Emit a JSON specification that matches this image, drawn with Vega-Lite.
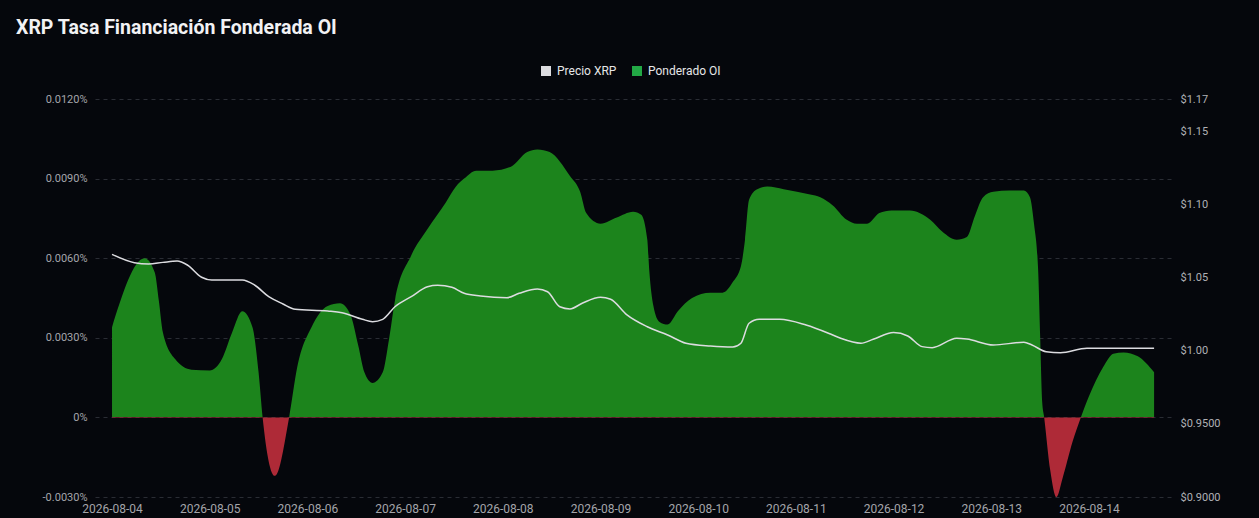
{
  "$schema": "https://vega.github.io/schema/vega-lite/v6.json",
  "width": 1077,
  "height": 398,
  "autosize": {"type": "none"},
  "padding": {"left": 95, "top": 99, "right": 87, "bottom": 21},
  "background": "#05070c",
  "title": {
    "text": "XRP Tasa Financiación Fonderada OI",
    "anchor": "start",
    "frame": "group",
    "dx": -79,
    "offset": 27,
    "font": "Roboto",
    "fontSize": 19.5,
    "fontWeight": "bold",
    "color": "#f2f2f4"
  },
  "config": {
    "view": {"stroke": null},
    "axis": {
      "domain": false,
      "ticks": false,
      "labelFont": "Roboto",
      "labelColor": "#a4a5aa",
      "labelFontSize": 11,
      "titleFont": "Roboto"
    },
    "legend": {"labelFont": "Roboto"}
  },
  "datasets": {
    "funding": [
      {"t": "2026-08-04T00:00", "rate": 0.0034},
      {"t": "2026-08-04T08:00", "rate": 0.0060},
      {"t": "2026-08-04T10:30", "rate": 0.00546},
      {"t": "2026-08-04T11:30", "rate": 0.0044},
      {"t": "2026-08-04T12:30", "rate": 0.0032},
      {"t": "2026-08-04T15:30", "rate": 0.0022},
      {"t": "2026-08-04T19:30", "rate": 0.0018},
      {"t": "2026-08-05T00:00", "rate": 0.00177},
      {"t": "2026-08-05T03:00", "rate": 0.0022},
      {"t": "2026-08-05T05:30", "rate": 0.0032},
      {"t": "2026-08-05T08:00", "rate": 0.0040},
      {"t": "2026-08-05T10:30", "rate": 0.0034},
      {"t": "2026-08-05T12:00", "rate": 0.0017},
      {"t": "2026-08-05T13:00", "rate": 0.0},
      {"t": "2026-08-05T16:00", "rate": -0.0022},
      {"t": "2026-08-05T19:30", "rate": 0.0},
      {"t": "2026-08-05T21:30", "rate": 0.0019},
      {"t": "2026-08-06T01:00", "rate": 0.0034},
      {"t": "2026-08-06T05:00", "rate": 0.0042},
      {"t": "2026-08-06T08:00", "rate": 0.0043},
      {"t": "2026-08-06T10:30", "rate": 0.0039},
      {"t": "2026-08-06T12:30", "rate": 0.0027},
      {"t": "2026-08-06T14:00", "rate": 0.0017},
      {"t": "2026-08-06T16:00", "rate": 0.0013},
      {"t": "2026-08-06T18:30", "rate": 0.0017},
      {"t": "2026-08-06T20:00", "rate": 0.0029},
      {"t": "2026-08-06T21:30", "rate": 0.0044},
      {"t": "2026-08-07T01:30", "rate": 0.0061},
      {"t": "2026-08-07T05:30", "rate": 0.0071},
      {"t": "2026-08-07T10:00", "rate": 0.0081},
      {"t": "2026-08-07T12:30", "rate": 0.0087},
      {"t": "2026-08-07T14:30", "rate": 0.0090},
      {"t": "2026-08-07T17:30", "rate": 0.0093},
      {"t": "2026-08-07T21:30", "rate": 0.0093},
      {"t": "2026-08-08T02:00", "rate": 0.00945},
      {"t": "2026-08-08T06:00", "rate": 0.0100},
      {"t": "2026-08-08T08:30", "rate": 0.0101},
      {"t": "2026-08-08T11:30", "rate": 0.0100},
      {"t": "2026-08-08T16:30", "rate": 0.0091},
      {"t": "2026-08-08T19:00", "rate": 0.0085},
      {"t": "2026-08-08T20:30", "rate": 0.0077},
      {"t": "2026-08-09T00:00", "rate": 0.0073},
      {"t": "2026-08-09T04:00", "rate": 0.00753},
      {"t": "2026-08-09T08:00", "rate": 0.00775},
      {"t": "2026-08-09T10:00", "rate": 0.00764},
      {"t": "2026-08-09T11:30", "rate": 0.0067},
      {"t": "2026-08-09T12:00", "rate": 0.0055},
      {"t": "2026-08-09T13:00", "rate": 0.0042},
      {"t": "2026-08-09T14:30", "rate": 0.0036},
      {"t": "2026-08-09T16:30", "rate": 0.0035},
      {"t": "2026-08-09T19:00", "rate": 0.0040},
      {"t": "2026-08-09T22:30", "rate": 0.0045},
      {"t": "2026-08-10T03:00", "rate": 0.0047},
      {"t": "2026-08-10T06:00", "rate": 0.0047},
      {"t": "2026-08-10T08:30", "rate": 0.0051},
      {"t": "2026-08-10T10:30", "rate": 0.0057},
      {"t": "2026-08-10T11:30", "rate": 0.0067},
      {"t": "2026-08-10T12:30", "rate": 0.0082},
      {"t": "2026-08-10T14:30", "rate": 0.0086},
      {"t": "2026-08-10T17:00", "rate": 0.0087},
      {"t": "2026-08-10T21:00", "rate": 0.0086},
      {"t": "2026-08-11T03:30", "rate": 0.0084},
      {"t": "2026-08-11T06:00", "rate": 0.0083},
      {"t": "2026-08-11T09:00", "rate": 0.0080},
      {"t": "2026-08-11T12:30", "rate": 0.00745},
      {"t": "2026-08-11T15:00", "rate": 0.0073},
      {"t": "2026-08-11T17:30", "rate": 0.0073},
      {"t": "2026-08-11T20:30", "rate": 0.0077},
      {"t": "2026-08-11T23:30", "rate": 0.0078},
      {"t": "2026-08-12T04:00", "rate": 0.0078},
      {"t": "2026-08-12T09:00", "rate": 0.00745},
      {"t": "2026-08-12T12:00", "rate": 0.0070},
      {"t": "2026-08-12T15:30", "rate": 0.0067},
      {"t": "2026-08-12T18:00", "rate": 0.0068},
      {"t": "2026-08-12T20:00", "rate": 0.0076},
      {"t": "2026-08-12T22:00", "rate": 0.0083},
      {"t": "2026-08-13T00:30", "rate": 0.0085},
      {"t": "2026-08-13T04:30", "rate": 0.00855},
      {"t": "2026-08-13T08:00", "rate": 0.00855},
      {"t": "2026-08-13T09:30", "rate": 0.0083},
      {"t": "2026-08-13T10:30", "rate": 0.0073},
      {"t": "2026-08-13T11:30", "rate": 0.0056},
      {"t": "2026-08-13T12:00", "rate": 0.0031},
      {"t": "2026-08-13T12:30", "rate": 0.0006},
      {"t": "2026-08-13T13:00", "rate": 0.0},
      {"t": "2026-08-13T14:30", "rate": -0.0020},
      {"t": "2026-08-13T16:00", "rate": -0.0030},
      {"t": "2026-08-13T17:30", "rate": -0.0023},
      {"t": "2026-08-13T20:00", "rate": -0.0009},
      {"t": "2026-08-13T22:00", "rate": 0.0},
      {"t": "2026-08-14T00:00", "rate": 0.0008},
      {"t": "2026-08-14T03:30", "rate": 0.0019},
      {"t": "2026-08-14T06:00", "rate": 0.0024},
      {"t": "2026-08-14T08:30", "rate": 0.00245},
      {"t": "2026-08-14T12:00", "rate": 0.0023},
      {"t": "2026-08-14T16:00", "rate": 0.0017}
    ],
    "price": [
      {"t": "2026-08-04T00:00", "price": 1.0662},
      {"t": "2026-08-04T05:30", "price": 1.0605},
      {"t": "2026-08-04T09:00", "price": 1.0596},
      {"t": "2026-08-04T12:30", "price": 1.0607},
      {"t": "2026-08-04T16:00", "price": 1.0616},
      {"t": "2026-08-04T18:30", "price": 1.0589},
      {"t": "2026-08-04T22:00", "price": 1.0505},
      {"t": "2026-08-05T00:30", "price": 1.0486},
      {"t": "2026-08-05T08:00", "price": 1.0486},
      {"t": "2026-08-05T11:00", "price": 1.0452},
      {"t": "2026-08-05T14:30", "price": 1.0372},
      {"t": "2026-08-05T18:00", "price": 1.0322},
      {"t": "2026-08-05T21:00", "price": 1.0286},
      {"t": "2026-08-06T05:00", "price": 1.0274},
      {"t": "2026-08-06T08:30", "price": 1.0262},
      {"t": "2026-08-06T13:30", "price": 1.0217},
      {"t": "2026-08-06T16:00", "price": 1.0201},
      {"t": "2026-08-06T18:30", "price": 1.0217},
      {"t": "2026-08-06T21:30", "price": 1.0303},
      {"t": "2026-08-07T01:30", "price": 1.0372},
      {"t": "2026-08-07T05:30", "price": 1.0440},
      {"t": "2026-08-07T08:00", "price": 1.0450},
      {"t": "2026-08-07T11:30", "price": 1.0436},
      {"t": "2026-08-07T14:30", "price": 1.0395},
      {"t": "2026-08-07T18:30", "price": 1.0377},
      {"t": "2026-08-08T01:00", "price": 1.0365},
      {"t": "2026-08-08T04:00", "price": 1.0395},
      {"t": "2026-08-08T08:30", "price": 1.0425},
      {"t": "2026-08-08T11:00", "price": 1.0406},
      {"t": "2026-08-08T14:00", "price": 1.0303},
      {"t": "2026-08-08T16:30", "price": 1.0288},
      {"t": "2026-08-08T19:30", "price": 1.0327},
      {"t": "2026-08-09T00:00", "price": 1.0368},
      {"t": "2026-08-09T02:30", "price": 1.0354},
      {"t": "2026-08-09T06:30", "price": 1.0247},
      {"t": "2026-08-09T11:30", "price": 1.0166},
      {"t": "2026-08-09T16:30", "price": 1.0110},
      {"t": "2026-08-09T21:00", "price": 1.0053},
      {"t": "2026-08-10T03:00", "price": 1.0034},
      {"t": "2026-08-10T08:30", "price": 1.0027},
      {"t": "2026-08-10T10:30", "price": 1.0053},
      {"t": "2026-08-10T12:30", "price": 1.0190},
      {"t": "2026-08-10T15:00", "price": 1.0217},
      {"t": "2026-08-10T20:00", "price": 1.0217},
      {"t": "2026-08-11T02:30", "price": 1.0178},
      {"t": "2026-08-11T08:30", "price": 1.0116},
      {"t": "2026-08-11T11:00", "price": 1.0087},
      {"t": "2026-08-11T16:00", "price": 1.0053},
      {"t": "2026-08-11T19:00", "price": 1.0080},
      {"t": "2026-08-12T00:00", "price": 1.0126},
      {"t": "2026-08-12T03:30", "price": 1.0103},
      {"t": "2026-08-12T07:00", "price": 1.0030},
      {"t": "2026-08-12T09:30", "price": 1.0023},
      {"t": "2026-08-12T15:30", "price": 1.0087},
      {"t": "2026-08-12T18:00", "price": 1.0082},
      {"t": "2026-08-13T00:30", "price": 1.0041},
      {"t": "2026-08-13T08:00", "price": 1.0060},
      {"t": "2026-08-13T10:00", "price": 1.0041},
      {"t": "2026-08-13T13:30", "price": 0.9995},
      {"t": "2026-08-13T17:00", "price": 0.9988},
      {"t": "2026-08-13T23:30", "price": 1.0018},
      {"t": "2026-08-14T16:00", "price": 1.0018}
    ],
    "series": [
      {"serie": "Precio XRP"},
      {"serie": "Ponderado OI"}
    ]
  },
  "layer": [
    {
      "data": {"name": "funding"},
      "mark": {
        "type": "area",
        "interpolate": "monotone",
        "fill": {
          "gradient": "linear",
          "x1": 0, "y1": 0, "x2": 0, "y2": 1,
          "stops": [
            {"offset": 0, "color": "#1c841c"},
            {"offset": 0.771, "color": "#1c841c"},
            {"offset": 0.771, "color": "#ae2a37"},
            {"offset": 1, "color": "#ae2a37"}
          ]
        }
      },
      "encoding": {
        "x": {
          "field": "t",
          "type": "temporal",
          "title": null,
          "scale": {
            "domain": [
              {"year": 2026, "month": 8, "date": 3, "hours": 19, "minutes": 49},
              {"year": 2026, "month": 8, "date": 14, "hours": 20, "minutes": 24}
            ]
          },
          "axis": {
            "values": [
              {"year": 2026, "month": 8, "date": 4},
              {"year": 2026, "month": 8, "date": 5},
              {"year": 2026, "month": 8, "date": 6},
              {"year": 2026, "month": 8, "date": 7},
              {"year": 2026, "month": 8, "date": 8},
              {"year": 2026, "month": 8, "date": 9},
              {"year": 2026, "month": 8, "date": 10},
              {"year": 2026, "month": 8, "date": 11},
              {"year": 2026, "month": 8, "date": 12},
              {"year": 2026, "month": 8, "date": 13},
              {"year": 2026, "month": 8, "date": 14}
            ],
            "format": "%Y-%m-%d",
            "grid": false,
            "labelFlush": false,
            "labelFontSize": 12,
            "labelPadding": 6
          }
        },
        "y": {
          "field": "rate",
          "type": "quantitative",
          "title": null,
          "scale": {"domain": [-0.003, 0.012], "nice": false},
          "axis": {
            "values": [-0.003, 0, 0.003, 0.006, 0.009, 0.012],
            "labelExpr": "datum.value == 0 ? '0%' : replace(format(datum.value, '.4f'), '−', '-') + '%'",
            "grid": true,
            "gridColor": "#2a2d34",
            "gridDash": [4, 4],
            "labelPadding": 8
          }
        },
        "y2": {"datum": 0}
      }
    },
    {
      "data": {"name": "price"},
      "mark": {"type": "line", "interpolate": "monotone", "color": "#dcdce0", "strokeWidth": 1.5},
      "encoding": {
        "x": {"field": "t", "type": "temporal"},
        "y": {
          "field": "price",
          "type": "quantitative",
          "title": null,
          "scale": {"domain": [0.9, 1.1726], "nice": false, "zero": false},
          "axis": {
            "orient": "right",
            "values": [0.9, 0.95, 1.0, 1.05, 1.1, 1.15, 1.1726],
            "labelExpr": "datum.value < 1 ? '$' + format(datum.value, '.4f') : '$' + format(datum.value, '.2f')",
            "grid": false,
            "labelColor": "#b0b1b5",
            "labelPadding": 8
          }
        }
      }
    },
    {
      "data": {"name": "series"},
      "mark": {"type": "square", "opacity": 0},
      "encoding": {
        "color": {
          "field": "serie",
          "type": "nominal",
          "scale": {"domain": ["Precio XRP", "Ponderado OI"], "range": ["#dcdce0", "#22a845"]},
          "legend": {
            "title": null,
            "orient": "none",
            "legendX": 445,
            "legendY": -34,
            "direction": "horizontal",
            "symbolType": "square",
            "symbolSize": 100,
            "symbolOpacity": 1,
            "symbolStrokeWidth": 0,
            "labelColor": "#e6e6e8",
            "labelFontSize": 12,
            "labelOffset": 5,
            "columnPadding": 14
          }
        }
      }
    }
  ],
  "resolve": {"scale": {"y": "independent"}}
}
